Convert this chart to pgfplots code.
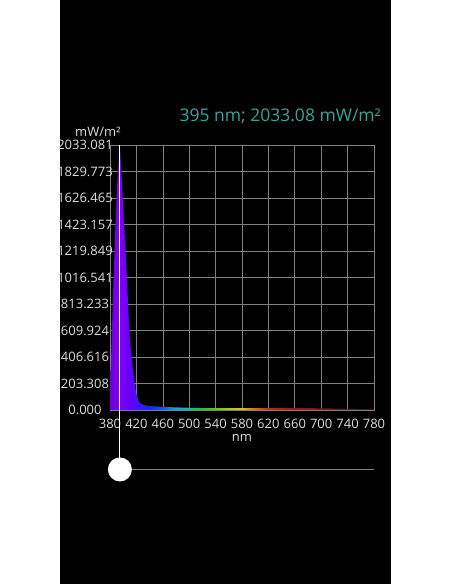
\documentclass[border=0pt]{standalone}
\usepackage{pgfplots}
\pgfplotsset{compat=1.18}
\usepackage{fontspec}
\setmainfont{Open Sans}
\definecolor{tick}{RGB}{220,220,220}
\definecolor{gridc}{RGB}{128,128,128}
\definecolor{teal}{RGB}{58,164,152}
% horizontal spectrum shading: 25bp = 380 nm, 75bp = 780 nm (8 nm per bp)
\pgfdeclarehorizontalshading{spectrum}{100bp}{%
rgb(0bp)=(0.431,0,0.863);%
rgb(25bp)=(0.431,0,0.863);%
rgb(26.875bp)=(0.490,0,0.941);%
rgb(28.75bp)=(0.392,0,1);%
rgb(30.625bp)=(0.235,0.078,1);%
rgb(32.5bp)=(0.078,0.157,1);%
rgb(35bp)=(0,0.353,1);%
rgb(37.5bp)=(0,0.667,0.902);%
rgb(40bp)=(0,0.784,0.510);%
rgb(42.5bp)=(0.118,0.784,0.157);%
rgb(45bp)=(0.353,0.784,0.078);%
rgb(47.5bp)=(0.667,0.784,0.078);%
rgb(50bp)=(0.863,0.745,0.118);%
rgb(52.5bp)=(0.863,0.431,0.078);%
rgb(55bp)=(0.745,0.157,0.078);%
rgb(60bp)=(0.627,0.078,0.078);%
rgb(65bp)=(0.549,0.059,0.059);%
rgb(75bp)=(0.392,0.039,0.039);%
rgb(100bp)=(0.392,0.039,0.039)}
\begin{document}
\begin{tikzpicture}
\fill[white] (0pt,0pt) rectangle (452pt,584pt);
\fill[black] (60pt,0pt) rectangle (391pt,584pt);
\node[anchor=east, text=teal, font=\fontsize{17.5}{20}\selectfont, inner sep=0pt] at (381pt,468pt) {395 nm; 2033.08 mW/m²};
\begin{axis}[
  at={(110pt,174pt)}, anchor=south west,
  scale only axis, width=264pt, height=265pt,
  xmin=380, xmax=780, ymin=0, ymax=2033.081,
  xtick={380,420,...,780},
  ytick={0,203.308,406.616,609.924,813.233,1016.541,1219.849,1423.157,1626.465,1829.773,2033.081},
  yticklabels={0.000,203.308,406.616,609.924,813.233,1016.541,1219.849,1423.157,1626.465,1829.773,2033.081},
  /pgf/number format/assume math mode=true,
  major tick length=0pt,
  grid=major,
  major grid style={gridc, line width=0.6pt},
  axis line style={gridc, line width=0.6pt},
  ticklabel style={text=tick, font=\fontsize{13}{15}\selectfont},
  yticklabel style={anchor=center, xshift=-25pt},
  xticklabel style={anchor=center, yshift=-13.5pt, inner sep=0pt},
  xlabel={nm},
  xlabel style={at={(rel axis cs:0.5,0)}, anchor=center, yshift=-27.5pt, inner sep=0pt, text=tick, font=\fontsize{13}{15}\selectfont},
  clip=false,
]
\addplot[draw=none, shading=spectrum] table[x=x, y=y] {
x y
380 120
382 450
385 950
388 1380
391 1740
393 1900
395 2033.08
397 1850
399 1650
401 1450
403 1300
405 1074
408 750
410 550
413 400
415 300
418 180
420 120
423 75
425 55
430 40
440 30
460 24
480 20
500 17
520 15
540 14
560 14
580 14
600 14
620 15
640 15
660 15
680 14
700 13
720 11
740 9
760 7
780 5
} \closedcycle;
\draw[white, line width=0.9pt] (axis cs:395,2033.081) -- (axis cs:395,-456);
\draw[gridc, line width=0.8pt] (axis cs:395,-452) -- (axis cs:780,-452);
\fill[white] (axis cs:395,-456) circle[radius=12pt];
\node[text=tick, font=\fontsize{13}{15}\selectfont, anchor=center] at ([xshift=-12pt, yshift=13pt]rel axis cs:0,1) {mW/m²};
\end{axis}
\end{tikzpicture}
\end{document}
